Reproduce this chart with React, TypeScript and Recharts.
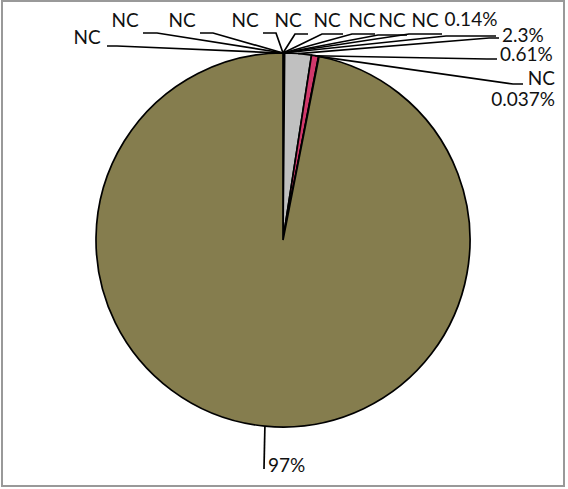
import React from 'react';
import { PieChart, Pie, Cell } from 'recharts';

// ---- data ----
const categories = [
  'S1', 'S2', 'S3', 'S4', 'S5', 'S6', 'S7', 'S8', 'S9',
  'S10', 'S11', 'S12', 'S13', 'S14', 'S15',
];
const values = [0, 0, 0, 0, 0, 0, 0, 0, 0, 0.14, 2.3, 0.61, 0, 0.037, 97];
const labels = values.map((v) => (v === 0 ? 'NC' : `${v}%`));

// ---- styles ----
const sliceColors = [
  '#4F81BD', '#C0504D', '#9BBB59', '#8064A2', '#4BACC6', '#F79646',
  '#2C4D75', '#772C2A', '#5F7530', '#4D3B62', '#C0C0C0', '#D1386B',
  '#276A7C', '#B65708', '#857D4E',
];

// label layout (text position + leader line start / elbow), Excel-style manual placement
type LL = { tx: number; ty: number; anchor: 'start' | 'middle' | 'end'; lead: boolean; sx: number; sy: number; bx: number; by: number };
const labelLayout: LL[] = [
  { tx: 87, ty: 44, anchor: 'middle', lead: true, sx: 107, sy: 46, bx: 117, by: 46 },
  { tx: 125, ty: 27, anchor: 'middle', lead: true, sx: 143, sy: 33, bx: 157, by: 33 },
  { tx: 182, ty: 27, anchor: 'middle', lead: true, sx: 200, sy: 33, bx: 213, by: 33 },
  { tx: 245, ty: 27, anchor: 'middle', lead: true, sx: 263, sy: 33, bx: 276, by: 33 },
  { tx: 288, ty: 27, anchor: 'middle', lead: true, sx: 308, sy: 34, bx: 295, by: 34 },
  { tx: 327, ty: 27, anchor: 'middle', lead: true, sx: 343, sy: 34, bx: 322, by: 34 },
  { tx: 362, ty: 27, anchor: 'middle', lead: true, sx: 375, sy: 34, bx: 352, by: 34 },
  { tx: 392, ty: 27, anchor: 'middle', lead: true, sx: 407, sy: 35, bx: 378, by: 35 },
  { tx: 425, ty: 27, anchor: 'middle', lead: true, sx: 442, sy: 34, bx: 409, by: 34 },
  { tx: 471, ty: 26, anchor: 'middle', lead: true, sx: 496, sy: 36, bx: 446, by: 36 },
  { tx: 502, ty: 42, anchor: 'start', lead: true, sx: 499, sy: 38, bx: 489, by: 38 },
  { tx: 500, ty: 61, anchor: 'start', lead: true, sx: 497, sy: 59, bx: 487, by: 59 },
  { tx: 555, ty: 85, anchor: 'end', lead: true, sx: 523, sy: 84, bx: 513, by: 84 },
  { tx: 555, ty: 106, anchor: 'end', lead: false, sx: 0, sy: 0, bx: 0, by: 0 },
  { tx: 268, ty: 472, anchor: 'start', lead: true, sx: 264, sy: 469, bx: 264, by: 469 },
];

const data = categories.map((name, i) => ({ name, value: values[i] }));

const RAD = Math.PI / 180;

const renderLabel = (p: any) => {
  const L = labelLayout[p.index];
  if (!L) return null;
  const ex = p.cx + p.outerRadius * Math.cos(-p.midAngle * RAD);
  const ey = p.cy + p.outerRadius * Math.sin(-p.midAngle * RAD);
  return (
    <g key={`lab-${p.index}`}>
      {L.lead && (
        <polyline
          points={`${L.sx},${L.sy} ${L.bx},${L.by} ${ex},${ey}`}
          fill="none"
          stroke="#000"
          strokeWidth={1.7}
        />
      )}
      <text
        x={L.tx}
        y={L.ty}
        textAnchor={L.anchor}
        fontFamily="Lato, 'Open Sans', sans-serif"
        fontSize={19}
        fill="#111"
      >
        {labels[p.index]}
      </text>
    </g>
  );
};

export default function App() {
  return (
    <div style={{ position: 'absolute', left: 0, top: 0, width: 568, height: 489, background: '#fff' }}>
      <div
        style={{
          position: 'absolute',
          left: 1,
          top: 0,
          width: 560,
          height: 483,
          border: '2px solid #999',
        }}
      />
      <div style={{ position: 'absolute', left: 0, top: 0 }}>
        <PieChart width={568} height={489} margin={{ top: 0, right: 0, bottom: 0, left: 0 }}>
          <Pie
            data={data}
            dataKey="value"
            nameKey="name"
            cx={283}
            cy={240}
            outerRadius={187}
            startAngle={90}
            endAngle={-270}
            stroke="#000"
            strokeWidth={1.7}
            label={renderLabel}
            labelLine={false}
            isAnimationActive={false}
          >
            {data.map((d, i) => (
              <Cell key={d.name} fill={sliceColors[i]} />
            ))}
          </Pie>
        </PieChart>
      </div>
    </div>
  );
}
